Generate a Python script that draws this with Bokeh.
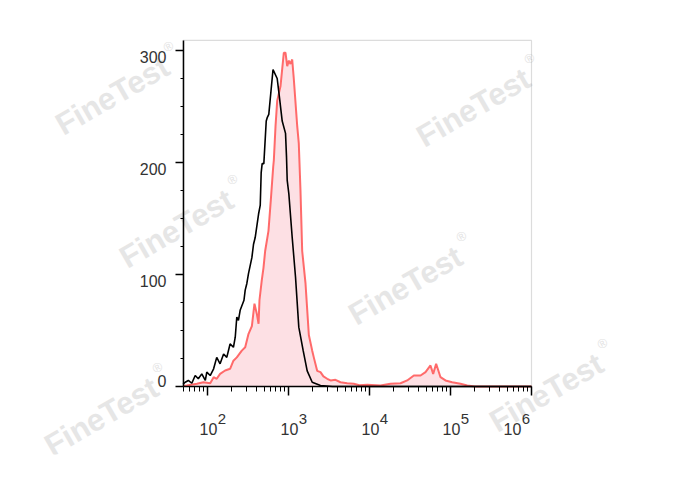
import math
from bokeh.plotting import figure
from bokeh.models import (Range1d, FixedTicker, CustomJSTickFormatter, Label,
                          ColumnDataSource, BoxAnnotation)
from bokeh.embed import file_html
from bokeh.resources import INLINE

# ---- data ----
black_x = [50, 53, 58, 64, 70.5, 77, 85, 94, 98, 108, 119, 130, 143, 158, 173,
           190, 209, 220, 230, 241, 253, 282, 292, 306, 321, 353, 370, 388, 427,
           448, 460, 473, 496, 531, 546, 571, 644, 725, 774, 836, 919, 945, 964,
           1010, 1111, 1220, 1340, 1518, 1701, 1963, 2483, 3500, 10000, 100000,
           1000000]
black_y = [2, 3.8, 5.4, 2.9, 9.8, 6.9, 11.3, 5.4, 12.8, 9.8, 15.8, 26, 20.3, 29,
           26, 38, 35, 44, 62, 59, 68, 77, 86, 92, 101, 115, 127, 133, 154, 162,
           191, 199, 199, 237, 240, 243, 283, 275, 258, 237, 226, 205, 184, 172,
           133, 98, 53, 32, 14, 3.8, 0.9, 0, 0, 0, 0]

red_x = [50, 55.5, 74, 89, 108, 119, 130, 143, 165, 190, 209, 230, 265, 292,
         321, 353, 380, 406, 427, 438, 468, 491, 515, 566, 604, 647, 659, 691,
         725, 796, 875, 918, 964, 1010, 1059, 1111, 1162, 1280, 1340, 1406, 1476,
         1622, 1783, 1963, 2053, 2259, 2483, 2700, 3006, 3304, 3800, 4387, 5305,
         6402, 7500, 9373, 13680, 18150, 24140, 29190, 35260, 42660, 49120,
         56600, 61100, 66500, 75300, 86700, 104900, 132800, 160700, 200000,
         1000000]
red_y = [0.5, 0.9, 2.4, 3.8, 2.9, 8.3, 6.9, 11.3, 14.3, 15.8, 23, 26, 32, 35,
         47, 54, 74, 65, 56, 77, 95, 106, 121, 139, 166, 196, 202, 232, 255, 268,
         298, 298, 286, 291, 288, 292, 275, 233, 217, 175, 121, 92, 46, 32, 26,
         14, 12.8, 9, 6.9, 5.4, 6, 3.8, 2.9, 2.4, 1.2, 1.5, 0.9, 2.4, 2.9, 5.4,
         9.8, 9.8, 12.8, 18.8, 11.3, 20.3, 8.3, 5.4, 3.8, 2.4, 0.9, 0, 0]

x_min, x_max = 50, 1e6
y_min, y_max = 0, 309
x_major = [100, 1000, 10000, 100000, 1000000]
x_exp = ["2", "3", "4", "5", "6"]
y_major = [0, 100, 200, 300]
y_minor = [25, 50, 75, 125, 150, 175, 225, 250, 275]
y_labels = ["0", "100", "200", "300"]

wm_centers = [(112, 95), (473, 107), (176, 228), (405, 285), (101, 416), (546, 392)]

# ---- layout: the frame covers the canvas, the plot box sits inside it ----
W, H = 688, 490
BL, BB = 36, 36                  # borders (left, bottom) of the canvas frame
X0, DEC = 207, 81                # page x of 10^2, px per decade
Y0, PPU = 386, 1.12              # page y of 0 counts, px per count
xr = Range1d(10 ** (2 + (BL - X0) / DEC), 10 ** (2 + (W - X0) / DEC))
yr = Range1d((Y0 - (H - BB)) / PPU, Y0 / PPU)

p = figure(width=W, height=H, x_axis_type="log", x_range=xr, y_range=yr,
           output_backend="svg", toolbar_location=None,
           min_border_left=BL, min_border_bottom=BB,
           min_border_top=0, min_border_right=0)
p.background_fill_color = "white"
p.border_fill_color = "white"
p.outline_line_color = None
p.grid.visible = False


def sx(px):
    return px - BL


def sy(py):
    return (H - BB) - py


# watermarks
ang = math.radians(30)
for cx, cy in wm_centers:
    p.add_layout(Label(x=sx(cx), y=sy(cy), x_units="screen", y_units="screen",
                       text="FineTest", angle=ang, text_align="center",
                       text_baseline="middle", text_font="Liberation Sans",
                       text_font_style="bold", text_font_size="31px",
                       text_color="#e6e6e6", level="underlay"))
    p.add_layout(Label(x=sx(cx + 56), y=sy(cy - 49), x_units="screen",
                       y_units="screen", text="®", angle=ang,
                       text_align="center", text_baseline="middle",
                       text_font="Liberation Sans", text_font_size="13px",
                       text_color="#e3e3e3", level="underlay"))

# plot box outline (top / right in grey)
p.add_layout(BoxAnnotation(left=x_min, right=x_max, bottom=y_min, top=y_max,
                           fill_alpha=0, line_color="#8a8a8a", line_width=1.2,
                           level="underlay"))

src_r = ColumnDataSource(dict(x=red_x, y=red_y, z=[0] * len(red_x)))
p.varea(x="x", y1="z", y2="y", source=src_r, fill_color="#fde0e4")
p.line(x="x", y="y", source=src_r, line_color="#ff5252", line_width=2,
       line_alpha=0.85)
p.line(black_x, black_y, line_color="black", line_width=1.6)

# axes, fixed at the plot box
minor = []
for d in range(1, 6):
    for k in range(2, 10):
        v = k * 10 ** d
        if x_min <= v <= x_max:
            minor.append(v)
p.xaxis.ticker = FixedTicker(ticks=x_major, minor_ticks=minor)
p.yaxis.ticker = FixedTicker(ticks=y_major, minor_ticks=y_minor)
p.xaxis.fixed_location = y_min
p.yaxis.fixed_location = x_min
p.xaxis.bounds = (x_min, x_max)
p.yaxis.bounds = (y_min, y_max)
for ax in (p.xaxis[0], p.yaxis[0]):
    ax.formatter = CustomJSTickFormatter(code="return ''")
    ax.major_label_standoff = 0
    ax.axis_line_color = "black"
    ax.axis_line_width = 1.5
    ax.major_tick_line_color = "black"
    ax.minor_tick_line_color = "black"
    ax.major_tick_line_width = 1.5
    ax.major_tick_in = 0
    ax.minor_tick_in = 0
p.xaxis.major_tick_out = 9
p.xaxis.minor_tick_out = 5
p.yaxis.major_tick_out = 8
p.yaxis.minor_tick_out = 3

FONT = "Liberation Sans"
for v, t in zip(y_major, y_labels):
    p.add_layout(Label(x=sx(166), x_units="screen", y=v, y_units="data",
                       y_offset=(6 if v == 0 else -6), text=t,
                       text_align="right", text_baseline="middle",
                       text_font=FONT, text_font_size="16px",
                       text_color="#333333"))
for v, e in zip(x_major, x_exp):
    dx = -19 if v == x_max else 1
    p.add_layout(Label(x=v, x_units="data", y=sy(428.5), y_units="screen",
                       x_offset=dx, text="10", text_align="center",
                       text_baseline="middle", text_font=FONT,
                       text_font_size="16px", text_color="#333333"))
    p.add_layout(Label(x=v, x_units="data", y=sy(418), y_units="screen",
                       x_offset=dx + 13.5, text=e, text_align="center",
                       text_baseline="middle", text_font=FONT,
                       text_font_size="15px", text_color="#333333"))

open("out.html", "w").write(file_html(p, INLINE))
